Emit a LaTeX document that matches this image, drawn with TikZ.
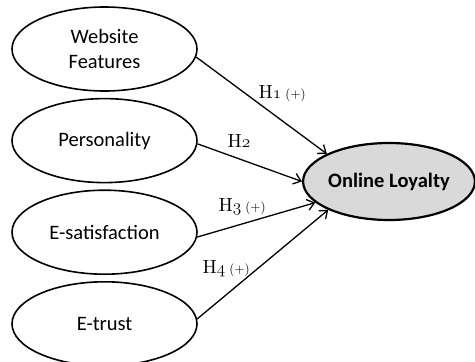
\documentclass[tikz,border=0pt]{standalone}
\usepackage{fontspec}
\setsansfont{Carlito}
\newfontfamily\hypfont[Extension=.otf]{lmroman10-regular}
\usepackage{tikz}
\usetikzlibrary{positioning}
\usetikzlibrary{arrows.meta}
\usetikzlibrary{shapes.geometric}
% old style figures from the classic math italic font
\newcommand{\osnum}[1]{{\fontencoding{OML}\fontfamily{cmm}\fontseries{m}\fontshape{it}\selectfont #1}}
\newcommand{\plussign}{\hspace{4pt}{\fontsize{13}{14}\selectfont(+)}}

\begin{document}
\begin{tikzpicture}[x=1pt,y=-1pt,line width=1.3pt,>={Straight Barb[length=7pt,width=11pt]},
    factor/.style={ellipse,draw,line width=1.6pt,minimum width=185pt,minimum height=84pt,inner sep=0pt,
      align=center,font=\sffamily\fontsize{20.5}{25}\selectfont},
    outcome/.style={factor,fill=black!15,line width=2.2pt,minimum width=168pt,minimum height=77pt,
      font=\sffamily\bfseries\fontsize{20.5}{25}\selectfont},
    hyp/.style={anchor=base west,inner sep=0pt,font=\hypfont\fontsize{19}{21}\selectfont}]
  \useasboundingbox (0,0) rectangle (475,362);
  \node (web)    [factor] at (104.5,49)        {Website\\Features};
  \node (pers)   [factor,below=6pt of web]  {Personality};
  \node (esat)   [factor,below=6pt of pers] {E-satisfaction};
  \node (etrust) [factor,below=6pt of esat] {E-trust};
  \node (ol)     [outcome] at (389,181.5)      {Online Loyalty};
  \draw[->] (web.-5)   -- (ol.156);
  \draw[->] (pers.-2)  -- (ol.west);
  \draw[->] (esat.-3)  -- (ol.196);
  \draw[->] (etrust.3) -- (ol.205);
  \node (h1) [hyp] at (258,98)  {H\osnum{1}\plussign};
  \node (h2) [hyp] at (227,147) {H\osnum{2}};
  \node (h3) [hyp] at (218,211) {H\osnum{3}\plussign};
  \node (h4) [hyp] at (202,273) {H\osnum{4}\plussign};
\end{tikzpicture}
\end{document}
